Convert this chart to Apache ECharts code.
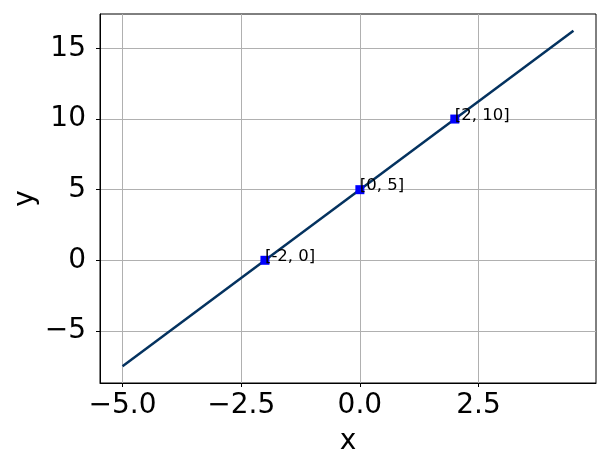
<!DOCTYPE html>
<html>
<head>
<meta charset="utf-8">
<script src="https://cdn.jsdelivr.net/npm/echarts@6/dist/echarts.min.js"></script>
<style>
  html, body { margin: 0; padding: 0; background: #fff; }
  #chart { width: 608px; height: 466px; }
</style>
</head>
<body>
<div id="chart"></div>
<script>
// the line y = 2.5x + 5, its two ends
const lineX = [-5, 4.5];
const lineY = [-7.5, 16.25];

// marked points and their labels
const pointX = [-2, 0, 2];
const pointY = [0, 5, 10];
const pointLabels = ['[-2, 0]', '[0, 5]', '[2, 10]'];

// axis ticks and limits
const xTicks = [-5, -2.5, 0, 2.5];
const yTicks = [-5, 0, 5, 10, 15];
const xLimits = [-5.475, 4.975];
const yLimits = [-8.6875, 17.4375];

const font = 'DejaVu Sans';
const minus = s => s.replace('-', '\u2212');

const chart = echarts.init(document.getElementById('chart'));

const option = {
  animation: false,
  grid: {
    left: 100, right: 12, top: 14, bottom: 83,
    outerBoundsMode: 'none', containLabel: false,
    show: true, borderColor: '#000', borderWidth: 1, backgroundColor: 'transparent'
  },
  xAxis: {
    type: 'value',
    min: xLimits[0], max: xLimits[1],
    name: 'x', nameLocation: 'middle', nameGap: 45, nameMoveOverlap: false,
    nameTextStyle: { fontFamily: font, fontSize: 28, color: '#000' },
    axisLine: { show: true, onZero: false, lineStyle: { color: '#000', width: 1 } },
    axisTick: { show: true, inside: false, length: 4, customValues: xTicks, lineStyle: { color: '#000' } },
    axisLabel: {
      customValues: xTicks, margin: 9,
      fontFamily: font, fontSize: 28, color: '#000',
      formatter: v => minus(v.toFixed(1))
    },
    splitLine: { show: true, customValues: xTicks, lineStyle: { color: '#b0b0b0', width: 1 } }
  },
  yAxis: {
    type: 'value',
    min: yLimits[0], max: yLimits[1],
    name: 'y', nameLocation: 'middle', nameGap: 60, nameMoveOverlap: false,
    nameTextStyle: { fontFamily: font, fontSize: 28, color: '#000' },
    axisLine: { show: true, onZero: false, lineStyle: { color: '#000', width: 1 } },
    axisTick: { show: true, inside: false, length: 4, customValues: yTicks, lineStyle: { color: '#000' } },
    axisLabel: {
      customValues: yTicks, margin: 14,
      fontFamily: font, fontSize: 28, color: '#000',
      formatter: v => minus(String(v))
    },
    splitLine: { show: true, customValues: yTicks, lineStyle: { color: '#b0b0b0', width: 1 } }
  },
  series: [
    {
      type: 'line',
      data: lineX.map((x, i) => [x, lineY[i]]),
      showSymbol: false,
      lineStyle: { color: '#04325f', width: 2.5 },
      z: 2
    },
    {
      type: 'scatter',
      data: pointX.map((x, i) => ({ value: [x, pointY[i]], name: pointLabels[i] })),
      symbol: 'rect',
      symbolSize: 9,
      itemStyle: { color: '#0000ff', opacity: 1 },
      label: {
        show: true,
        formatter: p => p.name,
        position: [4.5, 1],
        align: 'left',
        verticalAlign: 'middle',
        fontFamily: font,
        fontSize: 16.5,
        color: '#000'
      },
      z: 3
    }
  ]
};

chart.setOption(option);
</script>
</body>
</html>
